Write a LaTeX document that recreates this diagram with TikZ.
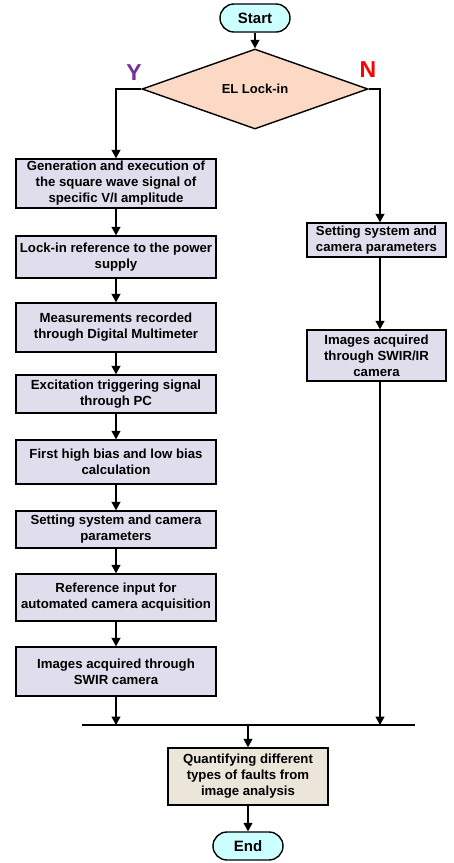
\documentclass[tikz,border=0pt]{standalone}
\usepackage{fontspec}
\setmainfont{Liberation Sans}
\usetikzlibrary{shapes.geometric,arrows.meta}
\definecolor{boxfill}{RGB}{224,222,236}
\definecolor{endfill}{RGB}{235,229,218}
\definecolor{pillfill}{RGB}{204,255,255}
\definecolor{diafill}{RGB}{252,217,196}
\definecolor{ycol}{RGB}{112,48,160}
\definecolor{ncol}{RGB}{255,0,0}
\begin{document}
\begin{tikzpicture}[x=1pt,y=-1pt,
  box/.style={draw=black, line width=1.4pt, fill=boxfill, align=center,
    font=\fontsize{13.2}{16}\selectfont\bfseries, inner sep=0pt},
  pill/.style={draw=black, line width=1.4pt, fill=pillfill, rectangle,
    rounded corners=14pt, minimum width=70pt, minimum height=28pt, inner sep=0pt,
    font=\fontsize{15}{18}\selectfont\bfseries},
  arr/.style={-{Triangle[width=9pt,length=8.5pt]}, line width=1.3pt},
  lbl/.style={font=\fontsize{23}{26}\selectfont\bfseries, inner sep=0pt}
]
\useasboundingbox (0,0) rectangle (454,863);

\node[pill] (start) at (255,18) {Start};
\node[diamond, draw=black, fill=diafill, line width=1.4pt, minimum width=226pt,
  minimum height=80pt, inner sep=0pt, shape aspect=2.8,
  font=\fontsize{13}{15}\selectfont\bfseries] (d) at (255,89) {EL Lock-in};
\node[lbl, text=ycol] (ylab) at (134,73) {Y};
\node[lbl, text=ncol] (nlab) at (368,70) {N};

\node[box, minimum width=200pt, minimum height=49pt] (b1) at (116,183.5)
  {Generation and execution of\\the square wave signal of\\specific V/I amplitude};
\node[box, minimum width=200pt, minimum height=42pt] (b2) at (116,257)
  {Lock-in reference to the power\\supply};
\node[box, minimum width=200pt, minimum height=49pt] (b3) at (116,327.5)
  {Measurements recorded\\through Digital Multimeter};
\node[box, minimum width=200pt, minimum height=38pt] (b4) at (116,394)
  {Excitation triggering signal\\through PC};
\node[box, minimum width=200pt, minimum height=44pt] (b5) at (116,462)
  {First high bias and low bias\\calculation};
\node[box, minimum width=200pt, minimum height=37pt] (b6) at (116,529.5)
  {Setting system and camera\\parameters};
\node[box, minimum width=200pt, minimum height=47pt] (b7) at (116,597.5)
  {Reference input for\\automated camera acquisition};
\node[box, minimum width=200pt, minimum height=49pt] (b8) at (116,671.5)
  {Images acquired through\\SWIR camera};

\node[box, minimum width=139pt, minimum height=34pt] (r1) at (376.5,240)
  {Setting system and\\camera parameters};
\node[box, minimum width=139pt, minimum height=51pt] (r2) at (376.5,355.5)
  {Images acquired\\through SWIR/IR\\camera};

\node[box, fill=endfill, minimum width=160pt, minimum height=57pt] (q) at (248,776.5)
  {Quantifying different\\types of faults from\\image analysis};
\node[pill] (end) at (248,846) {End};

\coordinate (rx) at (380,0);
\coordinate (hl) at (82,725);
\coordinate (hr) at (415,725);

\draw[arr] (start) -- (d);
\draw[arr] (d.west) -| (b1.north);
\draw[arr] (d.east) -| (r1.north -| rx);
\draw[arr] (b1) -- (b2);
\draw[arr] (b2) -- (b3);
\draw[arr] (b3) -- (b4);
\draw[arr] (b4) -- (b5);
\draw[arr] (b5) -- (b6);
\draw[arr] (b6) -- (b7);
\draw[arr] (b7) -- (b8);
\draw[arr] (r1.south -| rx) -- (r2.north -| rx);
\draw[line width=1.3pt] (hl) -- (hr);
\draw[arr] (b8.south) -- (b8.south |- hl);
\draw[arr] (r2.south -| rx) -- (rx |- hl);
\draw[arr] (q.north |- hl) -- (q.north);
\draw[arr] (q) -- (end);
\end{tikzpicture}
\end{document}
